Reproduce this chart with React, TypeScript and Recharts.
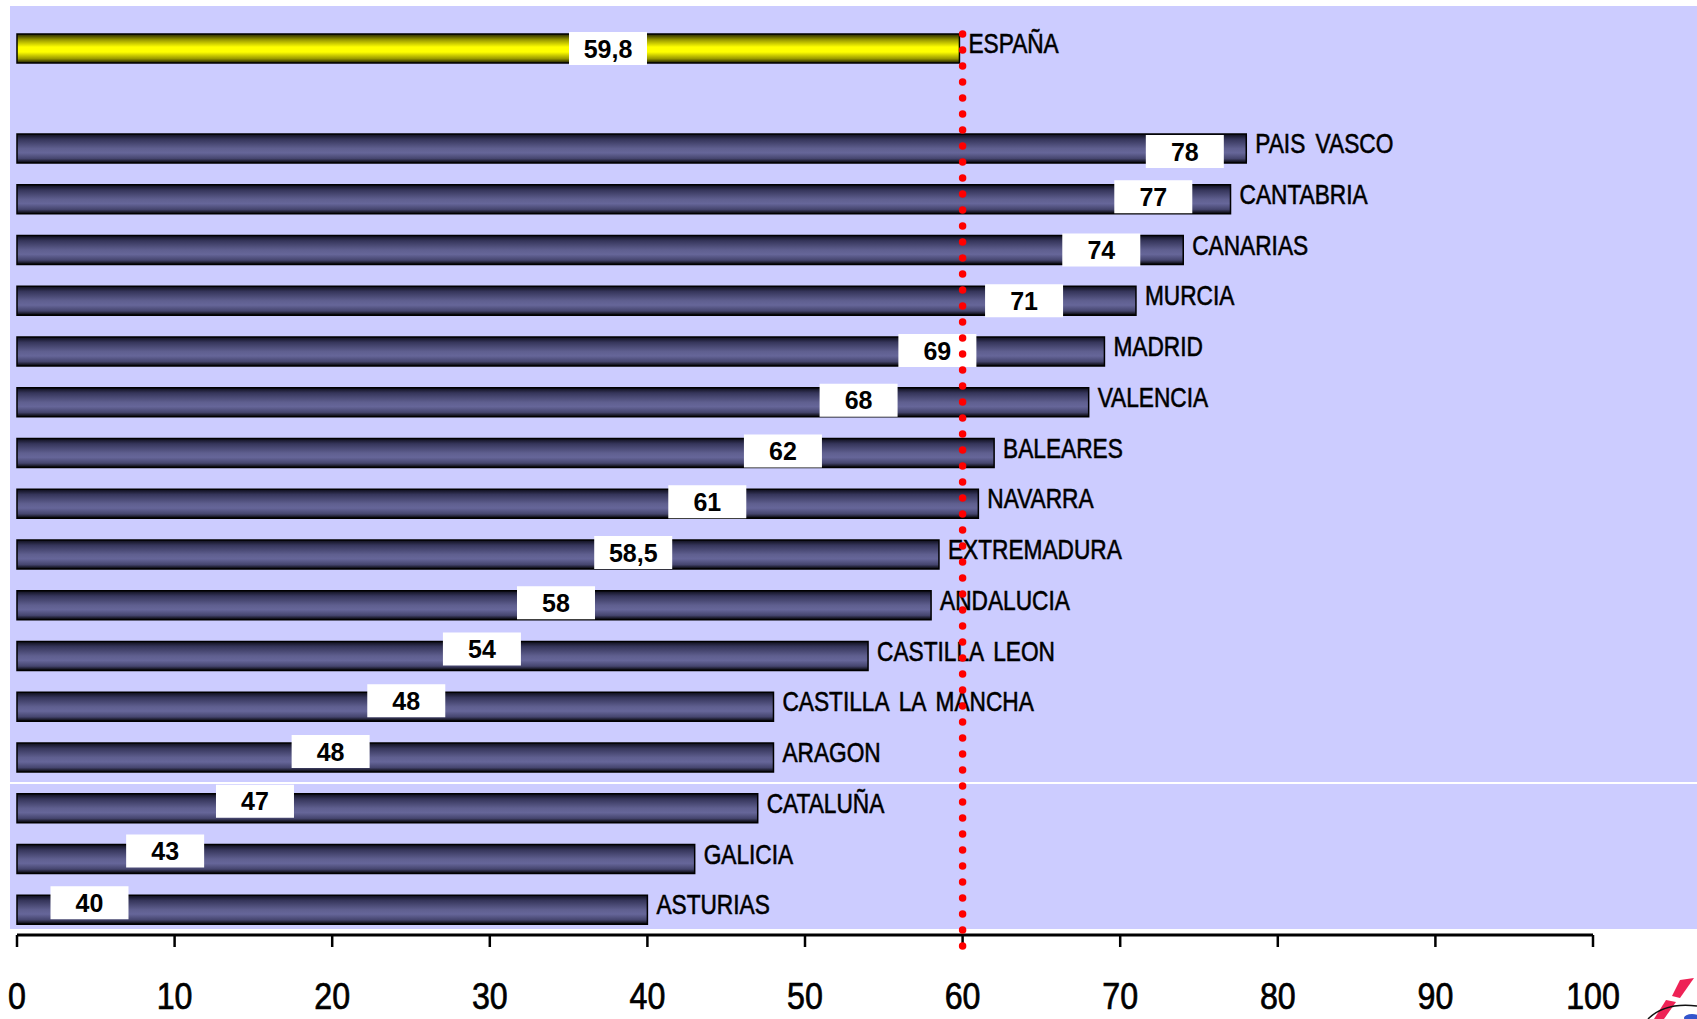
import React from 'react';
import { BarChart, Bar, XAxis, YAxis, ReferenceLine, LabelList } from 'recharts';

// ---- data ----
const regions = [
  'PAIS VASCO', 'CANTABRIA', 'CANARIAS', 'MURCIA', 'MADRID', 'VALENCIA', 'BALEARES',
  'NAVARRA', 'EXTREMADURA', 'ANDALUCIA', 'CASTILLA LEON', 'CASTILLA LA MANCHA',
  'ARAGON', 'CATALUÑA', 'GALICIA', 'ASTURIAS',
];
const values = [78, 77, 74, 71, 69, 68, 62, 61, 58.5, 58, 54, 48, 48, 47, 43, 40];
const spainName = 'ESPAÑA';
const spainValue = 59.8;
const average = 60;
const xTicks = [0, 10, 20, 30, 40, 50, 60, 70, 80, 90, 100];

// where the value boxes sit along each bar (in data units) and their vertical nudge
const regionLabelAt = [74.1, 72.1, 68.8, 63.9, 58.4, 53.4, 48.6, 43.8, 39.1, 34.2, 29.5, 24.7, 19.9, 15.1, 9.4, 4.6];
const regionLabelDy = [3, -2.5, 0, 0, -1, -2, -2, -2, -2, -2.5, -7, -6, -6, -7, -8, -7];
const spainLabelAt = [37.5];
const spainLabelDy = [0];

const regionData = regions.map((name, i) => ({ name, value: values[i] }));
const spainData = [{ name: spainName, value: spainValue }];

const W = 1697;
const H = 1019;
const FONT = '"Liberation Sans", Arial, Helvetica, sans-serif';

const fmt = (v: number) => String(v).replace('.', ',');

const makeValueLabel = (at: number[], dy: number[]) => (props: any) => {
  const { x, y, width, height, value, index } = props;
  const v = Number(value);
  const scale = Number(width) / v;
  const cx = Number(x) + at[index] * scale;
  const cy = Number(y) + Number(height) / 2 + dy[index];
  return (
    <g>
      <rect x={cx - 39} y={cy - 16.5} width={78} height={33} fill="#ffffff" />
      <text x={cx} y={cy + 9} textAnchor="middle" fontFamily={FONT} fontWeight="bold" fontSize={25} fill="#000">
        {fmt(v)}
      </text>
    </g>
  );
};

const CategoryLabel = (props: any) => {
  const { x, y, width, height, value } = props;
  const tx = Number(x) + Number(width) + 9;
  const ty = Number(y) + Number(height) / 2 + 4.5;
  return (
    <text
      transform={`translate(${tx},${ty}) scale(0.81,1)`}
      fontFamily={FONT}
      fontSize={28}
      fill="#000"
      stroke="#000"
      strokeWidth={0.6}
      wordSpacing={5}
    >
      {value}
    </text>
  );
};

const XTick = (props: any) => {
  const { x, y, payload } = props;
  return (
    <text
      transform={`translate(${x},${Number(y) + 62}) scale(0.87,1)`}
      textAnchor="middle"
      fontFamily={FONT}
      fontSize={37}
      fill="#000"
      stroke="#000"
      strokeWidth={0.7}
    >
      {payload.value}
    </text>
  );
};

const Gradients = () => (
  <defs>
    <linearGradient id="gBlue" x1="0" y1="0" x2="0" y2="1">
      <stop offset="0%" stopColor="#0d0d1a" />
      <stop offset="18%" stopColor="#35355a" />
      <stop offset="50%" stopColor="#5f5f8f" />
      <stop offset="65%" stopColor="#666699" />
      <stop offset="85%" stopColor="#45456e" />
      <stop offset="100%" stopColor="#000000" />
    </linearGradient>
    <linearGradient id="gYellow" x1="0" y1="0" x2="0" y2="1">
      <stop offset="0%" stopColor="#222200" />
      <stop offset="20%" stopColor="#999900" />
      <stop offset="45%" stopColor="#ffff00" />
      <stop offset="62%" stopColor="#ffff00" />
      <stop offset="85%" stopColor="#999900" />
      <stop offset="100%" stopColor="#1a1a00" />
    </linearGradient>
  </defs>
);

const layer: React.CSSProperties = { position: 'absolute', left: 0, top: 0 };

export default function App() {
  return (
    <div style={{ position: 'absolute', left: 0, top: 0, width: W, height: H, background: '#ffffff', overflow: 'hidden' }}>
      {/* plot background */}
      <div style={{ position: 'absolute', left: 10, top: 6, width: W - 10, height: 923, background: '#ccccff' }} />
      <div style={{ position: 'absolute', left: 10, top: 782, width: W - 10, height: 2, background: '#ffffff' }} />

      {/* regions */}
      <div style={layer}>
        <BarChart
          width={W}
          height={H}
          data={regionData}
          layout="vertical"
          margin={{ top: 123, right: 104, bottom: 24, left: 17 }}
          barSize={29}
        >
          <Gradients />
          <XAxis
            type="number"
            domain={[0, 100]}
            ticks={xTicks}
            interval={0}
            height={60}
            axisLine={{ stroke: '#000', strokeWidth: 3 }}
            tickLine={{ stroke: '#000', strokeWidth: 2.5 }}
            tickSize={12}
            tickMargin={0}
            tick={<XTick />}
          />
          <YAxis type="category" dataKey="name" hide width={0} />
          <Bar dataKey="value" fill="url(#gBlue)" stroke="#000" strokeWidth={1.5} isAnimationActive={false}>
            <LabelList dataKey="value" content={makeValueLabel(regionLabelAt, regionLabelDy)} />
            <LabelList dataKey="name" content={<CategoryLabel />} />
          </Bar>
        </BarChart>
      </div>

      {/* Spain */}
      <div style={layer}>
        <BarChart
          width={W}
          height={H}
          data={spainData}
          layout="vertical"
          margin={{ top: 21, right: 104, bottom: H - 75, left: 17 }}
          barSize={29}
        >
          <Gradients />
          <XAxis type="number" domain={[0, 100]} hide />
          <YAxis type="category" dataKey="name" hide width={0} />
          <Bar dataKey="value" fill="url(#gYellow)" stroke="#000" strokeWidth={1.5} isAnimationActive={false}>
            <LabelList dataKey="value" content={makeValueLabel(spainLabelAt, spainLabelDy)} />
            <LabelList dataKey="name" content={<CategoryLabel />} />
          </Bar>
        </BarChart>
      </div>

      {/* average line on top */}
      <div style={layer}>
        <BarChart
          width={W}
          height={H}
          data={spainData}
          layout="vertical"
          margin={{ top: 29, right: 104, bottom: H - 946, left: 17 }}
        >
          <XAxis type="number" domain={[0, 100]} hide />
          <YAxis type="category" dataKey="name" hide width={0} />
          <Bar dataKey="value" fill="none" fillOpacity={0} stroke="none" isAnimationActive={false} />
          <ReferenceLine
            x={average}
            stroke="#ff0000"
            strokeWidth={7.5}
            strokeDasharray="0 16"
            strokeLinecap="round"
            ifOverflow="visible"
          />
        </BarChart>
      </div>

      {/* logo fragment */}
      <svg style={{ position: 'absolute', left: 1620, top: 950 }} width={77} height={69}>
        <polygon points="60,30 74,28 60,48 52,46" fill="#ee2255" />
        <polygon points="46,50 56,52 44,69 34,69" fill="#ee2255" />
        <path d="M28,69 Q45,52 77,56" stroke="#111" strokeWidth={1.5} fill="none" />
        <ellipse cx={72} cy={68} rx={8} ry={4} fill="#3355cc" />
      </svg>
    </div>
  );
}
